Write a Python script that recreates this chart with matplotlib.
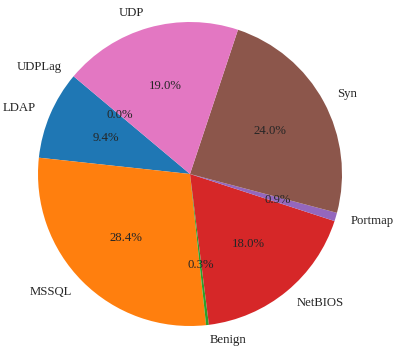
import matplotlib.pyplot as plt
from matplotlib import font_manager

# attack class shares (percent)
labels = ['LDAP', 'MSSQL', 'Benign', 'NetBIOS', 'Portmap', 'Syn', 'UDP', 'UDPLag']
shares = [9.4, 28.4, 0.3, 18.0, 0.9, 24.0, 19.0, 0.0]

# pick a Times-like face that is actually installed
installed = set(f.name for f in font_manager.fontManager.ttflist)
serif = [n for n in ['Times New Roman', 'Liberation Serif', 'Nimbus Roman', 'Tinos', 'DejaVu Serif'] if n in installed]

plt.rcParams['font.family'] = serif[0]
plt.rcParams['text.color'] = '.15'
plt.rcParams['font.size'] = 9.2

fig = plt.figure(figsize=(3.97, 3.52), dpi=100)
ax = fig.add_axes([0, 0, 1, 1])

ax.pie(shares, labels=labels, autopct='%1.1f%%', startangle=140)

# one data unit = 152 px, centre at (190, 174) px from top-left
s = 152.0
ax.set_aspect('auto')
ax.set_xlim(-190 / s, (397 - 190) / s)
ax.set_ylim(-(352 - 174) / s, 174 / s)
ax.axis('off')

fig.savefig('out.png', dpi=100)
